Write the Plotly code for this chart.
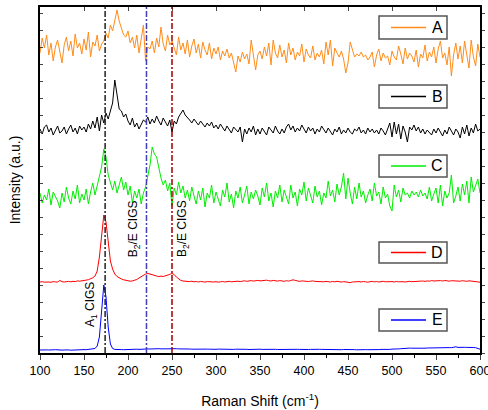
import plotly.graph_objects as go

# Raman shift grid (cm^-1), 2.5 cm^-1 spacing from 100 to 600
shift_start = 100.0
shift_step = 2.5
n_points = 201
raman_shift = [shift_start + shift_step * i for i in range(n_points)]

series_names = ["A", "B", "C", "D", "E"]
series_colors = ["#ff8c1a", "#000000", "#00ee00", "#ff0000", "#0000ff"]

# Intensities (a.u., stacked spectra)
A = [300,315,305,318,298,310,292,306,313,301,
     290,308,316,302,312,297,319,305,310,299,
     314,303,321,296,311,307,318,302,309,312,
     320,315,328,322,331,343,332,325,318,316,
     322,310,316,305,318,300,312,328,292,306,
     304,312,300,315,306,326,309,302,318,308,
     312,305,298,316,303,310,299,313,296,307,
     314,300,309,295,311,303,298,310,294,305,
     299,306,293,302,297,304,295,300,290,281,
     297,291,301,294,299,289,313,296,283,298,
     302,294,306,297,310,288,313,300,295,308,
     296,303,290,310,298,305,293,301,297,309,
     291,304,298,295,307,293,300,296,303,289,
     311,298,313,287,305,300,296,302,294,280,
     290,311,302,296,299,297,301,296,298,293,
     296,301,286,298,304,292,300,295,297,288,
     302,296,293,307,299,289,305,294,300,297,
     291,303,286,299,295,308,292,301,296,306,
     290,304,312,295,300,288,306,277,298,310,
     294,307,290,312,298,285,313,296,287,309,
     296]

B = [224,219,226,228,221,225,218,223,227,220,
     222,226,219,224,228,221,225,219,227,223,
     226,221,229,224,232,225,236,222,238,230,
     240,234,242,250,273,258,244,242,236,239,
     232,228,235,226,230,224,229,233,231,236,
     229,234,230,237,232,228,235,231,227,233,
     221,232,229,236,240,243,238,236,233,230,
     234,231,228,232,229,226,230,227,231,225,
     228,224,229,226,222,227,224,220,226,223,
     221,226,211,224,219,225,221,227,218,224,
     219,225,221,218,226,223,220,227,222,219,
     224,220,226,229,223,227,221,225,222,228,
     224,220,226,222,225,219,224,221,227,223,
     220,225,222,218,224,221,226,219,223,220,
     225,221,219,224,222,226,220,223,219,225,
     221,224,220,223,219,225,222,218,224,230,
     216,231,219,229,214,227,221,211,226,223,
     228,222,226,220,224,219,223,221,218,224,
     220,225,221,217,223,219,226,222,218,224,
     221,215,226,219,228,217,225,220,229,222,
     224]

C = [160,150,158,153,164,148,161,156,152,145,
     160,151,166,155,149,162,154,168,150,159,
     153,164,149,161,170,158,167,175,186,204,
     196,178,170,163,172,160,168,176,163,171,
     158,167,150,162,155,164,149,160,166,176,
     188,206,199,196,184,175,168,173,162,170,
     147,165,158,171,160,167,155,163,152,166,
     157,149,162,153,165,146,160,155,168,150,
     161,154,147,163,156,170,151,159,145,162,
     155,166,150,158,167,149,161,154,163,157,
     148,165,156,170,152,160,146,162,155,168,
     151,163,157,149,168,155,161,147,164,158,
     171,152,165,158,150,167,156,162,148,160,
     155,172,157,163,151,169,158,166,180,154,
     175,160,149,166,154,170,156,162,150,158,
     164,152,170,157,161,149,166,155,159,147,
     142,168,156,163,151,165,158,160,155,162,
     158,161,156,163,157,160,154,166,152,159,
     165,150,168,147,162,155,160,178,150,157,
     166,152,169,158,172,150,176,161,168,174,
     160]

D = [71.0,71.3,70.8,71.2,71.0,70.7,71.4,71.1,70.9,72.6,
     71.3,71.0,71.4,71.6,71.2,71.7,71.4,72.1,71.8,72.4,
     72.6,72.9,73.3,74.0,75.2,77.0,82,96,120,138,
     131,110,92,84,79,76.5,75,74,73.2,72.5,
     72.0,71.8,72.1,72.6,73.5,75.0,76.6,77.8,79.0,79.6,
     78.8,78.2,77.4,77.0,76.4,76.9,76.5,77.1,77.6,78.6,
     79.6,78.4,76.0,74.1,72.6,72.0,71.6,71.9,71.4,71.8,
     71.2,71.5,71.0,71.6,71.3,70.9,71.4,71.1,71.5,71.0,
     71.3,70.8,71.2,71.5,71.0,71.4,71.7,71.2,71.6,71.3,
     71.8,71.4,71.9,72.2,71.7,72.0,72.4,71.9,72.2,72.6,
     72.1,72.5,72.2,72.8,72.3,72.0,72.6,72.2,71.9,72.4,
     72.0,71.7,72.3,71.9,72.5,73.2,72.6,72.0,71.6,72.1,
     71.7,72.0,71.5,71.8,72.1,71.6,71.4,71.9,71.5,71.2,
     71.6,71.3,71.0,71.5,71.2,71.7,71.3,70.9,71.4,71.1,
     70.8,70.4,71.0,71.3,70.9,71.4,71.0,71.5,71.2,70.8,
     71.3,71.6,71.1,71.5,71.0,71.4,71.7,71.2,71.5,71.1,
     71.4,71.0,71.5,71.2,71.6,71.3,71.0,71.4,71.7,71.3,
     71.5,71.2,71.6,72.3,72.0,71.6,72.1,71.8,72.4,72.0,
     72.3,71.9,72.4,72.0,72.5,72.2,71.8,72.3,72.0,72.4,
     72.1,71.8,72.3,72.0,71.7,72.2,71.9,72.3,71.8,71.4,
     70.8]

E = [3.0,3.2,2.9,3.1,3.0,2.8,3.2,3.3,3.0,3.1,
     2.9,3.0,3.2,3.1,2.8,3.0,3.3,3.1,3.0,3.2,
     3.4,3.3,3.5,3.6,3.8,4.5,7.0,16,42,68,
     56,26,9,4.5,3.6,3.3,3.2,3.4,3.3,3.5,
     3.4,3.6,3.5,3.7,3.8,3.6,3.9,4.0,3.8,4.1,
     4.0,4.2,4.1,3.9,4.3,4.1,4.2,4.0,4.3,4.4,
     4.2,4.5,4.3,4.1,4.2,4.0,4.1,3.9,4.0,3.8,
     3.9,3.7,3.8,4.0,3.8,3.7,3.9,3.8,3.6,3.8,
     3.7,3.9,3.8,3.6,3.7,3.9,3.8,3.7,3.6,3.8,
     3.9,3.7,3.6,3.8,3.7,3.5,3.7,3.8,3.6,3.7,
     3.8,3.6,3.7,3.9,3.7,3.6,3.8,3.7,3.5,3.6,
     3.7,3.8,3.6,3.5,3.7,3.6,3.8,3.7,3.6,3.4,
     3.6,3.7,3.5,3.6,3.8,3.6,3.5,3.7,3.6,3.5,
     3.4,3.6,3.5,3.7,3.6,3.4,3.5,3.3,3.5,3.6,
     3.4,3.3,3.5,3.4,3.2,3.4,3.3,3.5,3.4,3.3,
     3.2,3.4,3.3,3.1,3.4,3.6,3.5,3.7,3.8,3.6,
     3.9,3.8,4.0,4.1,4.3,4.6,4.8,4.7,4.9,4.8,
     4.7,4.9,4.8,5.0,4.9,4.8,5.0,5.1,4.9,5.0,
     5.1,5.0,5.2,5.1,5.3,5.2,5.4,5.3,5.6,6.2,
     5.6,5.8,5.5,5.7,5.6,5.8,5.7,5.5,5.3,4.8,
     3.8]

series_values = [A, B, C, D, E]

# Reference peak positions (cm^-1)
ref_lines = [174, 221, 250]
ref_colors = ["#222222", "#4040b0", "#a00000"]
ref_labels = ["A<sub>1</sub> CIGS", "B<sub>2</sub>/E CIGS", "B<sub>2</sub>/E CIGS"]
label_x = [158, 207, 262.5]
label_y = [48, 124, 124]

x_ticks = [100, 150, 200, 250, 300, 350, 400, 450, 500, 550, 600]
y_range = [0, 346]

# legend boxes (paper coords): top, bottom
legend_boxes = [(0.974, 0.9075), (0.7746, 0.7081), (0.5723, 0.5087),
                (0.3208, 0.2601), (0.1272, 0.0636)]
legend_x0, legend_x1 = 0.7705, 0.925
legend_line_x0, legend_line_x1 = 0.7977, 0.8773
legend_text_x = 0.903

FONT = "Liberation Sans, Arial, sans-serif"

fig = go.Figure()
for name, col, vals in zip(series_names, series_colors, series_values):
    fig.add_trace(go.Scatter(x=raman_shift, y=vals, mode="lines", name=name,
                             line=dict(color=col, width=1), showlegend=False))

# invisible trace for mirrored axes
fig.add_trace(go.Scatter(x=[x_ticks[0], x_ticks[-1]], y=y_range, xaxis="x2", yaxis="y2",
                         mode="markers", marker=dict(opacity=0), showlegend=False,
                         hoverinfo="skip"))

for xv, col in zip(ref_lines, ref_colors):
    fig.add_shape(type="line", xref="x", yref="paper", x0=xv, x1=xv, y0=0, y1=1,
                  line=dict(color=col, width=1.5, dash="6px,2px,2px,2px"))

for txt, xv, yv in zip(ref_labels, label_x, label_y):
    fig.add_annotation(x=xv, y=yv, xref="x", yref="y", text=txt, textangle=-90,
                       showarrow=False, font=dict(family=FONT, size=12, color="#000"))

# legend boxes
for name, col, (top, bot) in zip(series_names, series_colors, legend_boxes):
    fig.add_shape(type="rect", xref="paper", yref="paper", x0=legend_x0, x1=legend_x1,
                  y0=bot, y1=top, line=dict(color="#555", width=1.5), fillcolor="white",
                  layer="above")
    ym = (top + bot) / 2
    fig.add_shape(type="line", xref="paper", yref="paper", x0=legend_line_x0,
                  x1=legend_line_x1, y0=ym, y1=ym, line=dict(color=col, width=1.5),
                  layer="above")
    fig.add_annotation(x=legend_text_x, y=ym, xref="paper", yref="paper", text=name,
                       showarrow=False, xanchor="center", yanchor="middle",
                       font=dict(family=FONT, size=16, color="#000"))

fig.update_layout(
    width=488, height=410,
    margin=dict(l=40, r=8, t=7, b=57, autoexpand=False),
    paper_bgcolor="white", plot_bgcolor="white",
    font=dict(family=FONT, size=12, color="#000"),
    xaxis=dict(range=[100, 600], tickvals=x_ticks, ticks="outside", ticklen=5,
               tickwidth=1, showline=True, linecolor="#000", linewidth=1.5,
               showgrid=False, zeroline=False, automargin=False,
               ticklabeloverflow="allow",
               minor=dict(dtick=25, ticks="outside", ticklen=3, tickcolor="#000"),
               tickfont=dict(family=FONT, size=12.5),
               title=dict(text="Raman Shift (cm<sup>-1</sup>)",
                          font=dict(family=FONT, size=14), standoff=19)),
    yaxis=dict(range=y_range, showticklabels=False, ticks="inside", ticklen=3,
               dtick=17, showline=True, linecolor="#000", linewidth=1.5,
               showgrid=False, zeroline=False, automargin=False,
               title=dict(text="Intensity (a.u.)", font=dict(family=FONT, size=14),
                          standoff=14)),
    xaxis2=dict(range=[100, 600], overlaying="x", side="top", tickvals=x_ticks,
                ticks="inside", ticklen=4, showticklabels=False, showline=True,
                linecolor="#000", linewidth=1.5, showgrid=False, zeroline=False,
                automargin=False),
    yaxis2=dict(range=y_range, overlaying="y", side="right", dtick=17,
                ticks="outside", ticklen=3, showticklabels=False, showline=True,
                linecolor="#000", linewidth=1.5, showgrid=False, zeroline=False,
                automargin=False),
)

fig.write_html("out.html", config={"displayModeBar": False},
               post_script="document.body.style.margin='0';")
